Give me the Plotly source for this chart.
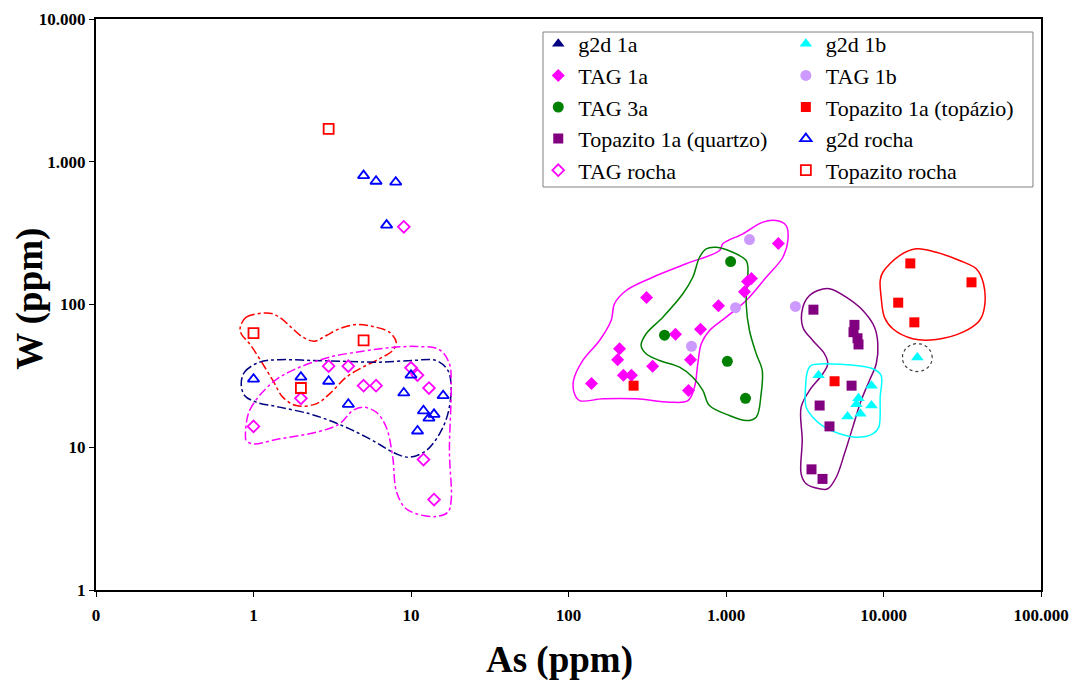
import numpy as np
import plotly.graph_objects as go

# ---- sample values: As (ppm) vs W (ppm) ----
# g2d 1a has no plotted samples; it only appears in the legend
g2d_1a_as, g2d_1a_w = [None], [None]

g2d_1b_as = [3870, 8390, 6940, 8390, 6740, 7140, 5910, 16400]
g2d_1b_w = [32, 27, 22, 19.6, 20, 17.2, 16.4, 42.5]

tag_1a_as = [140, 313, 211, 205, 223, 251, 342, 478, 595, 578, 689, 896, 1310, 1370, 1450, 2150]
tag_1a_w = [28, 112, 49, 41, 32, 32, 37, 62, 41, 25, 67, 98, 123, 145, 152, 267]

tag_1b_as = [1410, 1150, 604, 2760]
tag_1b_w = [285, 95, 51, 97]

tag_3a_as = [1070, 407, 1020, 1330]
tag_3a_w = [200, 61, 40, 22]

topaz_tpz_as = [259, 14800, 12400, 15700, 36200, 4890]
topaz_tpz_w = [27, 194, 103, 75, 143, 29]

topaz_qtz_as = [3590, 6540, 6450, 6840, 6940, 6270, 3930, 4540, 3490, 4100]
topaz_qtz_w = [92, 72, 64, 58, 52.5, 27, 19.6, 14, 7, 6]

g2d_rocha_as = [1, 2, 3, 4, 9, 10, 12, 14, 13, 11, 16, 5, 6, 8, 7]
g2d_rocha_w = [30, 31, 29, 20, 24, 32, 18, 17, 16, 13, 23, 800, 730, 720, 360]

tag_rocha_as = [1, 2, 3, 4, 5, 6, 10, 11, 13, 12, 14, 9]
tag_rocha_w = [14, 22, 37, 37, 27, 27, 36, 32, 26, 8.2, 4.3, 350]

topaz_rocha_as = [1, 5, 2, 3]
topaz_rocha_w = [63, 56, 26, 1700]

x_tickvals = [0.1, 1, 10, 100, 1000, 10000, 100000]
x_ticktext = ["0", "1", "10", "100", "1.000", "10.000", "100.000"]
y_tickvals = [1, 10, 100, 1000, 10000]
y_ticktext = ["1", "10", "100", "1.000", "10.000"]

# ---- hand-drawn field outlines, vertices as (log10 As, log10 W) ----
field_topaz_rocha = [(-0.084, 1.841), (-0.046, 1.911), (0.102, 1.939), (0.165, 1.911), (0.239, 1.841),
                     (0.313, 1.771), (0.387, 1.743), (0.462, 1.783), (0.546, 1.830), (0.652, 1.860),
                     (0.757, 1.846), (0.863, 1.806), (0.906, 1.736), (0.884, 1.678), (0.800, 1.620),
                     (0.694, 1.561), (0.589, 1.491), (0.483, 1.374), (0.398, 1.304), (0.271, 1.292),
                     (0.186, 1.351), (0.123, 1.468), (0.038, 1.620), (-0.025, 1.725), (-0.078, 1.795)]
field_g2d_rocha = [(-0.078, 1.444), (-0.057, 1.526), (0.038, 1.596), (0.165, 1.613), (0.377, 1.608),
                   (0.589, 1.601), (0.800, 1.596), (1.011, 1.608), (1.160, 1.608), (1.234, 1.538),
                   (1.255, 1.421), (1.234, 1.234), (1.181, 1.094), (1.097, 0.977), (0.990, 0.930),
                   (0.906, 0.954), (0.757, 1.047), (0.610, 1.129), (0.483, 1.187), (0.356, 1.234),
                   (0.165, 1.281), (0.017, 1.316), (-0.057, 1.363)]
field_tag_rocha = [(-0.051, 1.070), (-0.025, 1.257), (0.123, 1.456), (0.271, 1.550), (0.483, 1.631),
                   (0.694, 1.673), (0.863, 1.697), (1.033, 1.706), (1.181, 1.683), (1.244, 1.585),
                   (1.255, 1.421), (1.244, 0.977), (1.255, 0.627), (1.234, 0.545), (1.160, 0.515),
                   (1.033, 0.534), (0.959, 0.580), (0.906, 0.697), (0.884, 0.930), (0.843, 1.140),
                   (0.779, 1.246), (0.694, 1.281), (0.630, 1.257), (0.546, 1.164), (0.398, 1.105),
                   (0.165, 1.059), (-0.004, 1.024), (-0.046, 1.047)]
field_tag_1a = [(2.038, 1.374), (2.032, 1.468), (2.091, 1.608), (2.197, 1.748), (2.271, 1.888),
                (2.292, 2.005), (2.366, 2.098), (2.535, 2.191), (2.747, 2.285), (2.959, 2.378),
                (2.980, 2.425), (3.107, 2.495), (3.234, 2.577), (3.319, 2.588), (3.382, 2.553),
                (3.393, 2.448), (3.361, 2.331), (3.255, 2.191), (3.128, 2.028), (3.001, 1.911),
                (2.895, 1.818), (2.843, 1.725), (2.821, 1.585), (2.800, 1.421), (2.758, 1.327),
                (2.641, 1.316), (2.430, 1.339), (2.218, 1.339), (2.070, 1.327)]
field_tag_3a = [(2.461, 1.713), (2.493, 1.795), (2.599, 1.911), (2.726, 2.075), (2.789, 2.191),
                (2.832, 2.331), (2.874, 2.390), (2.938, 2.401), (3.043, 2.366), (3.128, 2.308),
                (3.139, 2.261), (3.128, 2.005), (3.149, 1.818), (3.192, 1.655), (3.230, 1.538),
                (3.223, 1.374), (3.192, 1.211), (3.128, 1.187), (3.022, 1.222), (2.895, 1.292),
                (2.853, 1.398), (2.789, 1.491), (2.705, 1.561), (2.578, 1.608), (2.493, 1.655)]
field_topaz_qtz = [(3.583, 2.098), (3.657, 2.110), (3.763, 2.051), (3.869, 1.958), (3.943, 1.841),
                   (3.964, 1.725), (3.954, 1.585), (3.911, 1.468), (3.858, 1.327), (3.805, 1.141),
                   (3.752, 0.954), (3.700, 0.790), (3.646, 0.709), (3.594, 0.709), (3.509, 0.744),
                   (3.477, 0.814), (3.484, 1.047), (3.477, 1.281), (3.530, 1.398), (3.615, 1.515),
                   (3.646, 1.585), (3.625, 1.655), (3.551, 1.748), (3.488, 1.841), (3.488, 1.981),
                   (3.530, 2.063)]
field_g2d_1b = [(3.541, 1.573), (3.742, 1.580), (3.932, 1.550), (3.985, 1.503), (3.979, 1.351),
                (3.970, 1.141), (3.932, 1.094), (3.827, 1.070), (3.721, 1.094), (3.625, 1.141),
                (3.551, 1.211), (3.509, 1.281), (3.505, 1.421), (3.519, 1.538)]
field_topaz_tpz = [(3.996, 2.226), (4.102, 2.343), (4.208, 2.390), (4.335, 2.366), (4.483, 2.308),
                   (4.589, 2.250), (4.635, 2.145), (4.641, 1.981), (4.610, 1.888), (4.504, 1.806),
                   (4.335, 1.755), (4.186, 1.760), (4.059, 1.830), (4.006, 1.911), (3.985, 2.051),
                   (3.979, 2.168)]

fig = go.Figure()


def add_field(pts, color, dash):
    pts = list(pts) + [pts[0]]
    fig.add_trace(go.Scatter(
        x=[10 ** p[0] for p in pts], y=[10 ** p[1] for p in pts],
        mode="lines", line=dict(color=color, width=1.5, dash=dash, shape="spline", smoothing=1.0),
        showlegend=False, hoverinfo="skip"))


add_field(field_topaz_rocha, "#FF0000", "dashdot")
add_field(field_g2d_rocha, "#000080", "dashdot")
add_field(field_tag_rocha, "#FF00FF", "dashdot")
add_field(field_tag_1a, "#FF00FF", "solid")
add_field(field_tag_3a, "#008000", "solid")
add_field(field_topaz_qtz, "#800080", "solid")
add_field(field_g2d_1b, "#00FFFF", "solid")
add_field(field_topaz_tpz, "#FF0000", "solid")

# dotted ring around the isolated g2d 1b sample
cx, cy = np.log10(g2d_1b_as[-1]), np.log10(g2d_1b_w[-1])
t = np.linspace(0, 2 * np.pi, 60)
fig.add_trace(go.Scatter(
    x=10 ** (cx + 0.095 * np.cos(t)), y=10 ** (cy + 0.098 * np.sin(t)),
    mode="lines", line=dict(color="#404040", width=1.2, dash="dot"),
    showlegend=False, hoverinfo="skip"))


def add_series(name, xs, ys, symbol, color, size, legend, open_=False):
    if open_:
        marker = dict(symbol=symbol, size=size, color=color, line=dict(color=color, width=1.8))
    else:
        marker = dict(symbol=symbol, size=size, color=color, line=dict(width=0))
    fig.add_trace(go.Scatter(x=xs, y=ys, mode="markers", name=name, marker=marker,
                             legend=legend, showlegend=True))


add_series("g2d 1a", g2d_1a_as, g2d_1a_w, "triangle-up", "#000080", 11, "legend")
add_series("TAG 1a", tag_1a_as, tag_1a_w, "diamond", "#FF00FF", 10, "legend")
add_series("TAG 3a", tag_3a_as, tag_3a_w, "circle", "#008000", 11, "legend")
add_series("Topazito 1a (quartzo)", topaz_qtz_as, topaz_qtz_w, "square", "#800080", 10, "legend")
add_series("TAG rocha", tag_rocha_as, tag_rocha_w, "diamond-open", "#FF00FF", 9, "legend", True)
add_series("g2d 1b", g2d_1b_as, g2d_1b_w, "triangle-up", "#00FFFF", 11, "legend2")
add_series("TAG 1b", tag_1b_as, tag_1b_w, "circle", "#CC99FF", 11, "legend2")
add_series("Topazito 1a (topázio)", topaz_tpz_as, topaz_tpz_w, "square", "#FF0000", 10, "legend2")
add_series("g2d rocha", g2d_rocha_as, g2d_rocha_w, "triangle-up-open", "#0000FF", 10, "legend2", True)
add_series("Topazito rocha", topaz_rocha_as, topaz_rocha_w, "square-open", "#FF0000", 10, "legend2", True)

serif = "Liberation Serif, Times New Roman, serif"
legend_font = dict(family=serif, size=22, color="black")
tick_font = dict(family=serif, size=17, color="black", weight="bold")
title_font = dict(family=serif, size=37, color="black")

fig.update_layout(
    width=1076, height=682,
    margin=dict(l=96, r=35, t=19, b=92),
    paper_bgcolor="white", plot_bgcolor="white",
    font=dict(family=serif, color="black"),
    xaxis=dict(
        type="log", range=[-1, 5], tickvals=x_tickvals, ticktext=x_ticktext,
        showgrid=False, zeroline=False, showline=True, linecolor="black", linewidth=2,
        mirror=True, ticks="outside", ticklen=5, tickwidth=1, tickcolor="black",
        tickfont=tick_font, ticklabelstandoff=4, automargin=False,
    ),
    yaxis=dict(
        type="log", range=[0, 4], tickvals=y_tickvals, ticktext=y_ticktext,
        showgrid=False, zeroline=False, showline=True, linecolor="black", linewidth=2,
        mirror=True, ticks="outside", ticklen=5, tickwidth=1, tickcolor="black",
        tickfont=tick_font, automargin=False,
    ),
    annotations=[
        dict(text="<b>As (ppm)</b>", xref="paper", yref="paper", x=0.49, y=-0.1226,
             xanchor="center", yanchor="middle", showarrow=False, font=title_font),
        dict(text="<b>W (ppm)</b>", xref="paper", yref="paper", x=-0.0698, y=0.51,
             xanchor="center", yanchor="middle", showarrow=False, textangle=-90, font=title_font),
    ],
    legend=dict(x=0.468, y=0.993, xanchor="left", yanchor="top", bgcolor="rgba(0,0,0,0)",
                borderwidth=0, font=legend_font, itemsizing="trace"),
    legend2=dict(x=0.73, y=0.993, xanchor="left", yanchor="top", bgcolor="rgba(0,0,0,0)",
                 borderwidth=0, font=legend_font, itemsizing="trace"),
    shapes=[dict(type="rect", xref="paper", yref="paper", x0=0.473, x1=0.9915, y0=0.7058, y1=0.9772,
                 line=dict(color="#808080", width=1), fillcolor="white", layer="below")],
    showlegend=True,
)

fig.write_html("out.html")
